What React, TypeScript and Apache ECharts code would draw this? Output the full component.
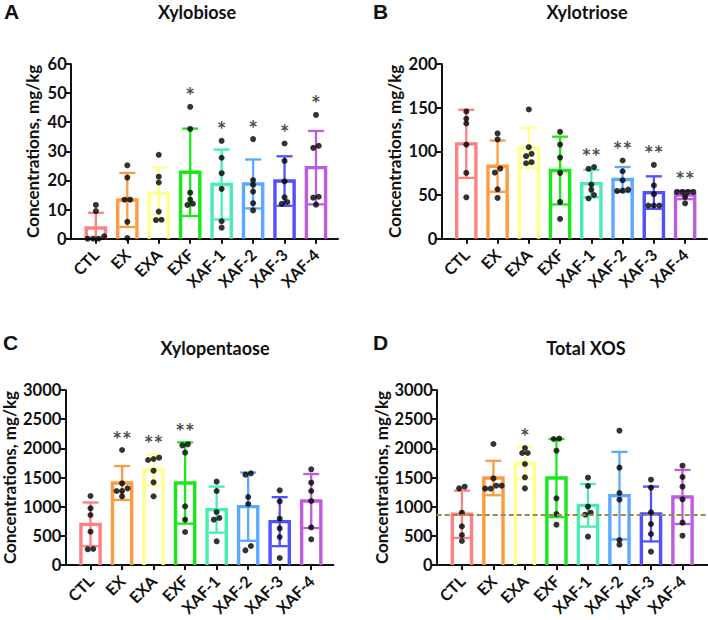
import React, { useEffect, useRef } from "react";
import * as echarts from "echarts";

const categories = ["CTL", "EX", "EXA", "EXF", "XAF-1", "XAF-2", "XAF-3", "XAF-4"];

// Xylobiose (mg/kg)
const xylobiosePoints = [
  [11.6, 9.5, 0, 0, 0, 0.8],
  [25.2, 21.0, 13.4, 13.4, 5.8, 0.2],
  [28.8, 21.3, 19.3, 9.3, 6.4, 6.5],
  [45.3, 37.7, 15.8, 13.4, 11.6, 12.0],
  [33.6, 27.8, 22.5, 17.1, 6.0, 3.8],
  [34.2, 20.1, 18.5, 16.2, 12.2, 9.7],
  [32.7, 26.7, 19.7, 14.2, 12.6, 12.0],
  [42.5, 31.9, 31.2, 14.4, 14.1, 11.7],
];
const xylobioseMean = [3.7, 13.3, 15.6, 22.8, 18.6, 18.8, 19.8, 24.4];
const xylobioseSD = [5.2, 9.3, 8.9, 15.0, 12.0, 8.4, 8.5, 12.6];
const xylobioseSig = ["", "", "", "*", "*", "*", "*", "*"];

// Xylotriose (mg/kg)
const xylotriosePoints = [
  [145.7, 137.3, 131.9, 107.8, 75.3, 47.4],
  [120.5, 113.6, 80.3, 75.7, 56.6, 46.7],
  [148, 104.8, 97.2, 94.5, 86.4, 87.6],
  [122.4, 107.8, 92.9, 75.3, 42.1, 22.6],
  [82, 80, 62, 56, 46, 50],
  [89.5, 77.2, 66.9, 56.2, 54.7, 55.1],
  [84.5, 61, 51, 38, 38, 38],
  [53.5, 53.5, 53.5, 53.5, 47.8, 40.5],
];
const xylotrioseMean = [108.6, 83, 104, 78, 63.1, 67.7, 52.8, 50.1];
const xylotrioseSD = [39, 29.3, 23, 38.8, 15.7, 14.3, 18.6, 4.8];
const xylotrioseSig = ["", "", "", "", "**", "**", "**", "**"];

// Xylopentaose (mg/kg)
const xylopentaosePoints = [
  [1183, 971, 857, 571, 269, 274],
  [1971, 1400, 1269, 1314, 1269, 1177],
  [1817, 1800, 1840, 1617, 1417, 1177],
  [2051, 2069, 1926, 1006, 777, 566],
  [1429, 1269, 909, 806, 777, 406],
  [1571, 1549, 1166, 1046, 326, 251],
  [1280, 1091, 794, 629, 480, 120],
  [1640, 1411, 1269, 1097, 646, 440],
];
const xylopentaoseMean = [697, 1406, 1629, 1406, 949, 1000, 743, 1097];
const xylopentaoseSD = [375, 290, 265, 697, 395, 585, 420, 463];
const xylopentaoseSig = ["", "**", "**", "**", "", "", "", ""];

// Total XOS (mg/kg)
const totalPoints = [
  [1314, 1343, 897, 663, 514, 411],
  [2074, 1486, 1360, 1309, 1309, 1360],
  [2006, 1920, 1920, 1731, 1503, 1314],
  [2160, 2166, 1960, 1143, 874, 691],
  [1497, 1354, 1000, 897, 863, 486],
  [2303, 1669, 1234, 1120, 429, 349],
  [1463, 1326, 903, 703, 531, 229],
  [1703, 1509, 1343, 1126, 726, 503],
];
const totalMean = [869, 1491, 1743, 1491, 1023, 1189, 874, 1166];
const totalSD = [405, 295, 275, 670, 366, 750, 470, 463];
const totalSig = ["", "", "*", "", "", "", "", ""];

const yMaxA = 60, yStepA = 10;
const yMaxB = 200, yStepB = 50;
const yMaxC = 3000, yStepC = 500;
const yMaxD = 3000, yStepD = 500;

const groupColors = ["#FF8080", "#FF9B3F", "#FFFF8A", "#18E818", "#48EDB0", "#5AA8FF", "#5050FF", "#BD5CE0"];
const FONT = "Lato, 'Open Sans', sans-serif";

const panels = [
  { key: "A", title: "Xylobiose", points: xylobiosePoints, mean: xylobioseMean, sd: xylobioseSD, sig: xylobioseSig, max: yMaxA, step: yStepA,
    grid: { left: 70.7, top: 64, width: 267.3, height: 174.7 }, xmax: 7.7, nameGap: 30, letter: [4, 1], titleX: 197, titleY: 3 },
  { key: "B", title: "Xylotriose", points: xylotriosePoints, mean: xylotrioseMean, sd: xylotrioseSD, sig: xylotrioseSig, max: yMaxB, step: yStepB,
    grid: { left: 441.3, top: 64, width: 265.7, height: 174.7 }, xmax: 7.7, nameGap: 38, letter: [373, 1], titleX: 587, titleY: 3 },
  { key: "C", title: "Xylopentaose", points: xylopentaosePoints, mean: xylopentaoseMean, sd: xylopentaoseSD, sig: xylopentaoseSig, max: yMaxC, step: yStepC,
    grid: { left: 65.3, top: 390, width: 268, height: 175 }, xmax: 7.7, nameGap: 47, letter: [3, 332], titleX: 215, titleY: 339 },
  { key: "D", title: "Total XOS", points: totalPoints, mean: totalMean, sd: totalSD, sig: totalSig, max: yMaxD, step: yStepD,
    grid: { left: 436.7, top: 390, width: 271, height: 175 }, xmax: 7.8, nameGap: 47, letter: [373, 332], titleX: 586, titleY: 339 },
];

// GraphPad-like spreading of near-equal dots
function spreadDots(values: number[], max: number, plotH: number, unitPx: number) {
  const pxPerVal = plotH / max;
  const sorted = values.slice().sort((a, b) => a - b);
  const out: number[][] = [];
  const step = 5.5 / unitPx;
  let k = 0;
  while (k < sorted.length) {
    const start = sorted[k];
    let j = k;
    while (j + 1 < sorted.length && (sorted[j + 1] - start) * pxPerVal < 4.5) j++;
    const n = j - k + 1;
    for (let t = 0; t < n; t++) out.push([(t - (n - 1) / 2) * step, sorted[k + t]]);
    k = j + 1;
  }
  return out;
}

export default function App() {
  const ref = useRef<HTMLDivElement>(null);
  useEffect(() => {
    if (!ref.current) return;
    const chart = echarts.init(ref.current, null, { renderer: "svg" });
    const grids: any[] = [];
    const xAxes: any[] = [];
    const yAxes: any[] = [];
    const series: any[] = [];
    const titles: any[] = [];
    const graphics: any[] = [];
    const ticks = categories.map((_, i) => i);

    panels.forEach((p, gi) => {
      grids.push({ ...p.grid, containLabel: false, outerBoundsMode: "none" });
      const unitPx = p.grid.width / (p.xmax + 0.8);
      xAxes.push({
        type: "value", gridIndex: gi, min: -0.8, max: p.xmax,
        axisLine: { show: true, onZero: false, lineStyle: { color: "#111", width: 2 } },
        axisTick: { show: true, customValues: ticks, length: 5, lineStyle: { color: "#111", width: 2 } },
        axisLabel: {
          show: true, customValues: ticks, rotate: 45, margin: 13,
          formatter: (v: number) => categories[Math.round(v)] ?? "",
          fontFamily: FONT, fontWeight: "bold", fontSize: 16, color: "#111",
        },
        splitLine: { show: false },
      });
      yAxes.push({
        type: "value", gridIndex: gi, min: 0, max: p.max, interval: p.step,
        name: "Concentrations, mg/kg", nameLocation: "middle", nameGap: p.nameGap,
        nameTextStyle: { fontFamily: FONT, fontWeight: "bold", fontSize: 17, color: "#111" },
        axisLine: { show: true, onZero: false, lineStyle: { color: "#111", width: 2 } },
        axisTick: { show: true, length: 5, lineStyle: { color: "#111", width: 2 } },
        axisLabel: { fontFamily: FONT, fontWeight: "bold", fontSize: 16.5, color: "#111", margin: 4,
          formatter: (v: number) => String(v) },
        splitLine: { show: false },
      });
      titles.push({
        text: p.title, left: p.titleX, top: p.titleY, textAlign: "center", padding: 0,
        textStyle: { fontFamily: FONT, fontWeight: "bold", fontSize: 18, color: "#111" },
      });
      graphics.push({
        type: "text", left: p.letter[0], top: p.letter[1],
        style: { text: p.key, fontFamily: "'Liberation Sans', Arial, sans-serif", fontWeight: "bold", fontSize: 21, fill: "#111" },
      });

      const barData = categories.map((_, i) => [i, p.mean[i], p.sd[i]]);
      series.push({
        type: "custom", xAxisIndex: gi, yAxisIndex: gi, z: 2,
        encode: { x: 0, y: 1 },
        data: barData,
        renderItem: (params: any, api: any) => {
          const i = api.value(0), m = api.value(1), s = api.value(2);
          const c = groupColors[i];
          const [x, yTop] = api.coord([i, m]);
          const [, y0] = api.coord([i, 0]);
          const hw = 9.6;
          const hi = api.coord([i, m + s])[1];
          const loV = Math.max(0, m - s);
          const lo = api.coord([i, loV])[1];
          const children: any[] = [
            { type: "polyline", shape: { points: [[x - hw, y0], [x - hw, yTop], [x + hw, yTop], [x + hw, y0]] },
              style: { fill: "none", stroke: c, lineWidth: 3.4 } },
            { type: "line", shape: { x1: x, y1: hi, x2: x, y2: lo }, style: { stroke: c, lineWidth: 2.3 } },
            { type: "line", shape: { x1: x - 8, y1: hi, x2: x + 8, y2: hi }, style: { stroke: c, lineWidth: 2.3 } },
          ];
          if (m - s > 0) children.push({ type: "line", shape: { x1: x - 8, y1: lo, x2: x + 8, y2: lo }, style: { stroke: c, lineWidth: 2.3 } });
          return { type: "group", children };
        },
      });

      const dots: number[][] = [];
      p.points.forEach((vals, i) => {
        spreadDots(vals, p.max, p.grid.height, unitPx).forEach(([dx, v]) => dots.push([i + dx, v]));
      });
      series.push({
        type: "scatter", xAxisIndex: gi, yAxisIndex: gi, z: 3,
        symbol: "circle", symbolSize: 6, itemStyle: { color: "#000" },
        data: dots,
      });

      const sigData = categories
        .map((_, i) => {
          const top = Math.max(...p.points[i], p.mean[i] + p.sd[i]);
          return [i, top + p.max * 0.1, i];
        })
        .filter((d) => p.sig[d[2]] !== "");
      series.push({
        type: "scatter", xAxisIndex: gi, yAxisIndex: gi, z: 4,
        symbol: "circle", symbolSize: 1, itemStyle: { color: "rgba(0,0,0,0)" },
        data: sigData,
        label: {
          show: true, position: "inside", offset: [0, 6],
          formatter: (d: any) => p.sig[d.value[2]],
          fontFamily: FONT, fontWeight: "bold", fontSize: 23, color: "#1a1a1a",
        },
      });

      if (p.key === "D") {
        series.push({
          type: "line", xAxisIndex: gi, yAxisIndex: gi, data: [], z: 5,
          markLine: {
            symbol: ["none", "none"], silent: true, label: { show: false },
            lineStyle: { color: "#9E8A4C", type: [5, 3], width: 2 },
            data: [{ yAxis: p.mean[0] }],
          },
        });
      }
    });

    chart.setOption({
      animation: false,
      backgroundColor: "#fff",
      title: titles,
      grid: grids,
      xAxis: xAxes,
      yAxis: yAxes,
      series,
      graphic: graphics,
    });
    return () => chart.dispose();
  }, []);
  return <div ref={ref} style={{ position: "fixed", left: 0, top: 0, width: 708, height: 620 }} />;
}
